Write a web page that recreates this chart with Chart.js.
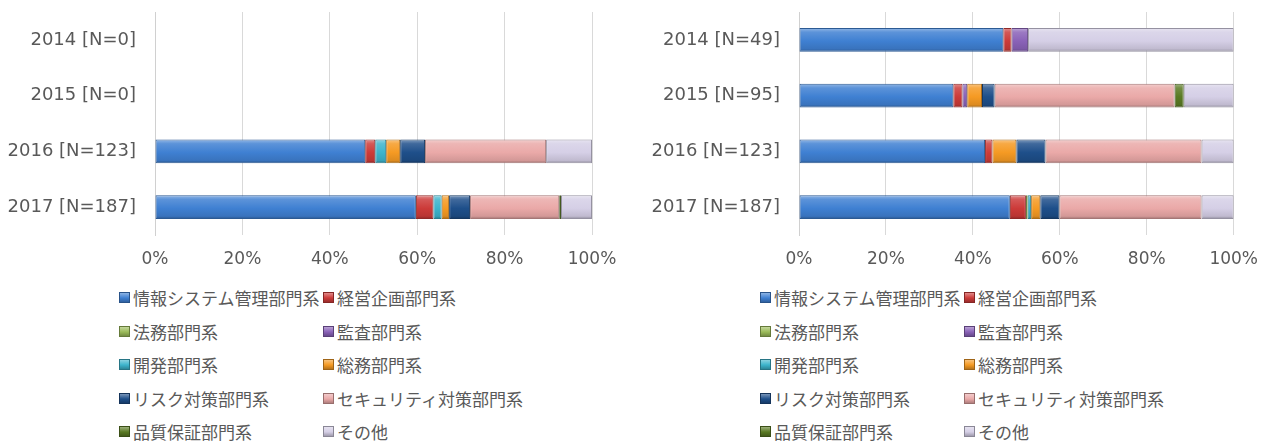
<!DOCTYPE html>
<html>
<head>
<meta charset="utf-8">
<script src="https://cdn.jsdelivr.net/npm/chart.js@4"></script>
<style>
  body {
    margin: 0;
    width: 1272px;
    height: 444px;
    position: relative;
    background: #fff;
    overflow: hidden;
    font-family: "DejaVu Sans", "Noto Sans CJK JP", sans-serif;
    color: #595959;
  }
  .chart-box {
    position: absolute;
    top: 0;
    width: 636px;
    height: 270px;
  }
  .legend {
    position: absolute;
    top: 281px;
    display: grid;
    grid-template-columns: 204px auto;
    grid-auto-rows: 33.5px;
    font-family: "Noto Sans CJK JP", sans-serif;
    font-size: 17px;
    color: #595959;
  }
  .legend-item {
    display: flex;
    align-items: center;
    white-space: nowrap;
  }
  .legend-swatch {
    width: 9px;
    height: 9px;
    margin-right: 3px;
    border: 1px solid #888;
    flex: none;
  }
</style>
</head>
<body>
<div class="chart-box" style="left:0"><canvas id="leftChart"></canvas></div>
<div class="chart-box" style="left:636px"><canvas id="rightChart"></canvas></div>
<div class="legend" id="leftLegend" style="left:119px"></div>
<div class="legend" id="rightLegend" style="left:760px"></div>

<script>
// categories
const leftCategories = ["2014 [N=0]", "2015 [N=0]", "2016 [N=123]", "2017 [N=187]"];
const rightCategories = ["2014 [N=49]", "2015 [N=95]", "2016 [N=123]", "2017 [N=187]"];

const seriesNames = [
  "情報システム管理部門系",
  "経営企画部門系",
  "法務部門系",
  "監査部門系",
  "開発部門系",
  "総務部門系",
  "リスク対策部門系",
  "セキュリティ対策部門系",
  "品質保証部門系",
  "その他",
];

// left chart values (%), per year 2014..2017
const leftJoho = [0, 0, 48.1, 59.7];
const leftKeiei = [0, 0, 2.3, 4.0];
const leftHomu = [0, 0, 0, 0];
const leftKansa = [0, 0, 0, 0];
const leftKaihatsu = [0, 0, 2.5, 1.9];
const leftSomu = [0, 0, 3.2, 1.7];
const leftRisk = [0, 0, 5.7, 4.8];
const leftSecurity = [0, 0, 27.7, 20.4];
const leftHinshitsu = [0, 0, 0, 0.4];
const leftOther = [0, 0, 10.5, 7.1];

// right chart values (%), per year 2014..2017
const rightJoho = [47.0, 35.5, 42.8, 48.5];
const rightKeiei = [1.9, 2.1, 1.7, 3.7];
const rightHomu = [0, 0, 0, 0.4];
const rightKansa = [3.8, 1.1, 0, 0];
const rightKaihatsu = [0, 0, 0, 0.8];
const rightSomu = [0, 3.4, 5.5, 2.1];
const rightRisk = [0, 2.9, 6.7, 4.4];
const rightSecurity = [0, 41.4, 35.9, 32.7];
const rightHinshitsu = [0, 2.1, 0, 0];
const rightOther = [47.3, 11.5, 7.4, 7.4];

const xTicks = [0, 20, 40, 60, 80, 100];

const seriesColors = [
  "#3f80d2",
  "#cc3b39",
  "#9bbb59",
  "#8a62b8",
  "#3cb4cc",
  "#f59a23",
  "#1e4f8a",
  "#eaa9a8",
  "#5a7a23",
  "#d5cfe6",
];

function shade(hex, amt) {
  const n = parseInt(hex.slice(1), 16);
  let r = (n >> 16) & 255, g = (n >> 8) & 255, b = n & 255;
  const mix = (c) => amt >= 0 ? Math.round(c + (255 - c) * amt) : Math.round(c * (1 + amt));
  return `rgb(${mix(r)}, ${mix(g)}, ${mix(b)})`;
}

const BAR_H = 24;

function barFill(base) {
  return function (context) {
    const chart = context.chart;
    if (!chart.chartArea) return base;
    const cy = chart.scales.y.getPixelForValue(context.dataIndex);
    const top = cy - BAR_H / 2;
    const g = chart.ctx.createLinearGradient(0, top, 0, top + BAR_H);
    g.addColorStop(0, shade(base, 0.45));
    g.addColorStop(0.18, shade(base, 0.15));
    g.addColorStop(0.55, base);
    g.addColorStop(0.88, shade(base, -0.1));
    g.addColorStop(1, shade(base, -0.35));
    return g;
  };
}

function buildDatasets(valueLists) {
  return valueLists.map((values, i) => ({
    label: seriesNames[i],
    data: values,
    backgroundColor: barFill(seriesColors[i]),
    borderColor: shade(seriesColors[i], -0.3),
    borderWidth: (ctx) => (ctx.raw > 0 ? 1 : 0),
    borderSkipped: false,
    barPercentage: 0.86,
    categoryPercentage: 0.5,
  }));
}

function buildChart(canvasId, categories, valueLists, axisWidth, padRight) {
  return new Chart(document.getElementById(canvasId), {
    type: "bar",
    data: {
      labels: categories,
      datasets: buildDatasets(valueLists),
    },
    options: {
      indexAxis: "y",
      responsive: true,
      maintainAspectRatio: false,
      animation: false,
      layout: {
        padding: { top: 12, right: padRight, bottom: 0, left: 0 },
      },
      plugins: {
        legend: { display: false },
        tooltip: { enabled: false },
      },
      scales: {
        x: {
          stacked: true,
          min: 0,
          max: 100,
          afterBuildTicks: function (scale) {
            scale.ticks = xTicks.map((v) => ({ value: v }));
          },
          afterFit: function (scale) {
            scale.height = 35;
          },
          grid: {
            color: "#d9d9d9",
            drawTicks: false,
          },
          border: { display: false },
          ticks: {
            padding: 14,
            color: "#595959",
            font: { family: "DejaVu Sans", size: 17 },
            callback: function (value) {
              return value + "%";
            },
          },
        },
        y: {
          stacked: true,
          afterFit: function (scale) {
            scale.width = axisWidth;
            scale.paddingTop = 0;
            scale.paddingBottom = 0;
          },
          grid: { display: false, drawTicks: false },
          border: { display: true, color: "#d0d0d0", width: 1 },
          ticks: {
            padding: 19,
            color: "#595959",
            font: { family: "DejaVu Sans", size: 18 },
          },
        },
      },
    },
  });
}

function renderLegend(containerId) {
  const container = document.getElementById(containerId);
  if (!container) return;
  container.innerHTML = seriesNames
    .map((name, i) => {
      const c = seriesColors[i];
      return `
    <div class="legend-item">
      <span class="legend-swatch" style="background: linear-gradient(${shade(c, 0.4)}, ${c} 55%, ${shade(c, -0.25)}); border-color: ${shade(c, -0.35)}"></span>
      <span>${name}</span>
    </div>`;
    })
    .join("");
}

document.addEventListener("DOMContentLoaded", function () {
  buildChart(
    "leftChart",
    leftCategories,
    [leftJoho, leftKeiei, leftHomu, leftKansa, leftKaihatsu, leftSomu, leftRisk, leftSecurity, leftHinshitsu, leftOther],
    155,
    44,
  );
  buildChart(
    "rightChart",
    rightCategories,
    [rightJoho, rightKeiei, rightHomu, rightKansa, rightKaihatsu, rightSomu, rightRisk, rightSecurity, rightHinshitsu, rightOther],
    163,
    38,
  );
  renderLegend("leftLegend");
  renderLegend("rightLegend");
});
</script>
</body>
</html>
